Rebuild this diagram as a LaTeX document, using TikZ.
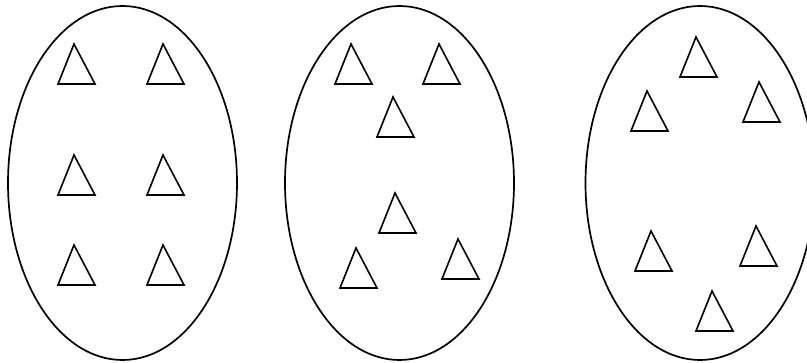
\documentclass[tikz,border=0pt]{standalone}
\usepackage{tikz}
\usetikzlibrary{shapes.geometric}

\begin{document}
\begin{tikzpicture}[
  x=1pt, y=-1pt,
  setnode/.style={ellipse, draw=black, line width=1.7pt, minimum width=229pt, minimum height=354pt, inner sep=0pt, outer sep=0pt},
  tri/.pic={\draw[line width=1.6pt, line join=miter] (0,0) -- (21,40) -- (-16,40) -- cycle;},
]
  \useasboundingbox (0,0) rectangle (807,363);

  % Left set: two columns of three
  \node[setnode] (setA) at (122.5,183) {};
  \pic at (74,44)   {tri};
  \pic at (163,44)  {tri};
  \pic at (74,155)  {tri};
  \pic at (163,155) {tri};
  \pic at (74,245)  {tri};
  \pic at (163,245) {tri};

  % Middle set
  \node[setnode] (setB) at (399.5,183) {};
  \pic at (351,44)  {tri};
  \pic at (439,44)  {tri};
  \pic at (393,97)  {tri};
  \pic at (395,193) {tri};
  \pic at (356,248) {tri};
  \pic at (458,239) {tri};

  % Right set (cut off at the right edge)
  \node[setnode] (setC) at (700,183) {};
  \pic at (696,37)  {tri};
  \pic at (647,91)  {tri};
  \pic at (759,82)  {tri};
  \pic at (651,231) {tri};
  \pic at (756,226) {tri};
  \pic at (712,291) {tri};
\end{tikzpicture}
\end{document}
